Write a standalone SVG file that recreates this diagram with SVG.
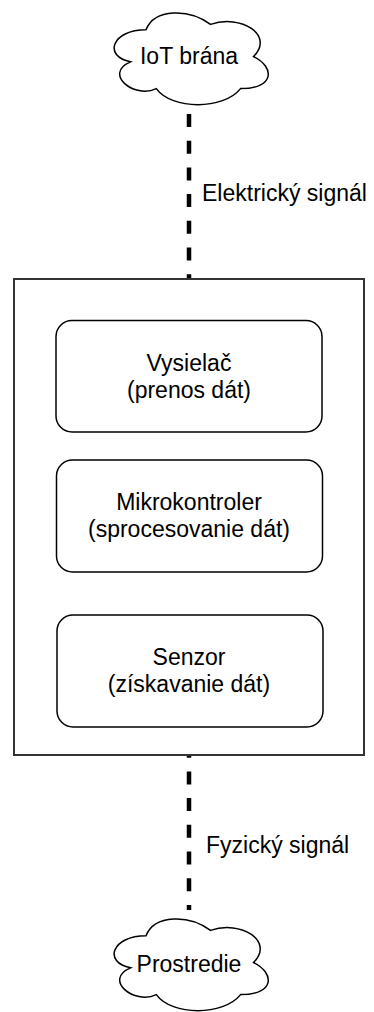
<svg xmlns="http://www.w3.org/2000/svg" width="374" height="1012" viewBox="0 0 374 1012">
<style>
text{font-family:"Liberation Sans",Arial,sans-serif;font-size:23px;fill:#000;}
.c{text-anchor:middle;}
.box{fill:#fff;stroke:#000;stroke-width:1.5;}
.outer{fill:#fff;stroke:#333;stroke-width:2;}
.cloud{fill:#fff;stroke:#000;stroke-width:1.5;}
.dash{stroke:#000;stroke-width:4.5;stroke-dasharray:13 13.7;fill:none;}
</style>
<defs>
<path id="cloudShape" d="M43,26.75 C8.6,26.75 0,53.5 27.52,58.85 C0,70.62 30.96,96.3 53.32,85.6 C68.8,107 120.4,107 137.6,85.6 C172,85.6 172,64.2 150.5,53.5 C172,32.1 137.6,10.7 107.5,21.4 C86,5.35 51.6,5.35 43,26.75 Z"/>
</defs>
<g id="connectors">
<path class="dash" d="M189,114 L189,279"/>
<path class="dash" d="M189,755 L189,910" stroke-dashoffset="10.3"/>
<text x="202" y="201">Elektrický signál</text>
<text x="206" y="853">Fyzický signál</text>
</g>
<g id="system">
<rect class="outer" x="14" y="279" width="350" height="476"/>
</g>
<g id="vysielac">
<rect class="box" x="56" y="320.5" width="266" height="111.5" rx="16"/>
<text class="c" x="189" y="370.5">Vysielač</text>
<text class="c" x="189" y="397.5">(prenos dát)</text>
</g>
<g id="mikrokontroler">
<rect class="box" x="56.5" y="460" width="266" height="112" rx="16"/>
<text class="c" x="189" y="510">Mikrokontroler</text>
<text class="c" x="189" y="537">(sprocesovanie dát)</text>
</g>
<g id="senzor">
<rect class="box" x="57" y="615" width="266" height="112" rx="16"/>
<text class="c" x="189" y="665">Senzor</text>
<text class="c" x="189" y="692">(získavanie dát)</text>
</g>
<g id="iot-brana">
<use href="#cloudShape" class="cloud" x="103" y="3"/>
<text class="c" x="189" y="64">IoT brána</text>
</g>
<g id="prostredie">
<use href="#cloudShape" class="cloud" x="103" y="909"/>
<text class="c" x="189" y="972">Prostredie</text>
</g>
</svg>
